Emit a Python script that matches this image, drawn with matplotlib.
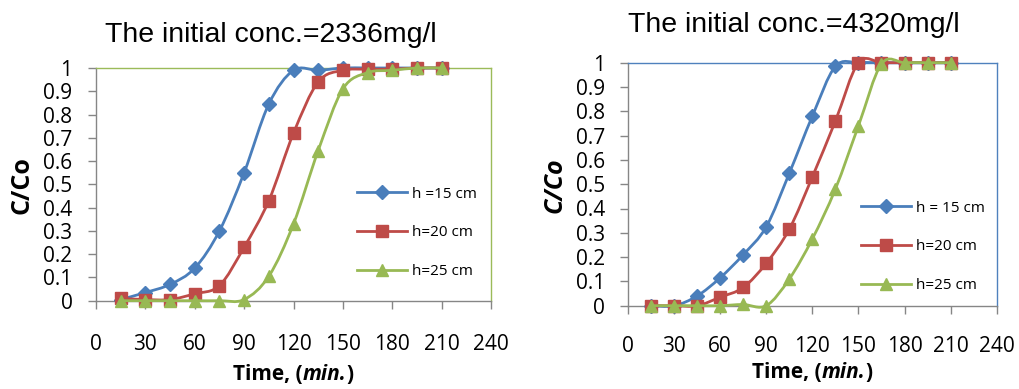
import matplotlib
matplotlib.use('Agg')
import matplotlib.pyplot as plt
import numpy as np
from matplotlib.path import Path
from matplotlib.patches import PathPatch
from matplotlib.lines import Line2D

W, H = 1019, 389

time = [15, 30, 45, 60, 75, 90, 105, 120, 135, 150, 165, 180, 195, 210]

# initial conc. 2336 mg/l
a_h15 = [0.005, 0.035, 0.07, 0.14, 0.30, 0.55, 0.845, 0.99, 0.99, 1.0, 1.0, 1.0, 1.0, 1.0]
a_h20 = [0.01, 0.005, 0.005, 0.03, 0.065, 0.23, 0.43, 0.72, 0.94, 0.99, 0.995, 0.995, 1.0, 1.0]
a_h25 = [0.0, 0.0, 0.0, 0.0, 0.0, 0.005, 0.105, 0.33, 0.645, 0.91, 0.98, 0.99, 1.0, 1.0]

# initial conc. 4320 mg/l
b_h15 = [0.0, 0.0, 0.04, 0.115, 0.21, 0.325, 0.545, 0.78, 0.985, 1.0, 1.0, 1.0, 1.0, 1.0]
b_h20 = [0.0, 0.0, 0.0, 0.035, 0.075, 0.175, 0.315, 0.53, 0.76, 1.0, 1.0, 1.0, 1.0, 1.0]
b_h25 = [0.0, 0.0, 0.0, 0.0, 0.005, 0.0, 0.11, 0.275, 0.48, 0.74, 0.995, 1.0, 1.0, 1.0]

labels_a = ['h =15 cm', 'h=20 cm', 'h=25 cm']
labels_b = ['h = 15 cm', 'h=20 cm', 'h=25 cm']
titles = ['The initial conc.=2336mg/l', 'The initial conc.=4320mg/l']

colors = ['#4A7EBB', '#BE4B48', '#98B954']
markers = [('D', 7), ('s', 8.5), ('^', 9)]
grey = '#868686'

font = 'Open Sans'


def smooth_path(x, y):
    # Excel-style smoothed line: cubic bezier segments (catmull-rom control points)
    pts = np.column_stack([x, y]).astype(float)
    n = len(pts)
    verts = [pts[0]]
    codes = [Path.MOVETO]
    for i in range(n - 1):
        p0 = pts[i - 1] if i > 0 else pts[i]
        p1 = pts[i]
        p2 = pts[i + 1]
        p3 = pts[i + 2] if i + 2 < n else pts[i + 1]
        c1 = p1 + (p2 - p0) / 6
        c2 = p2 - (p3 - p1) / 6
        verts += [c1, c2, p2]
        codes += [Path.CURVE4] * 3
    return Path(verts, codes)


def fx(px):
    return px / W


def fy(py):
    return 1 - py / H


def xlabel(cx, cy):
    # "Time, (min.)" with min. in bold italic, pieces laid side by side
    pieces = [('Time, (', 'normal'), ('min.', 'italic'), (')', 'normal')]
    r = fig.canvas.get_renderer()
    texts = []
    widths = []
    for s, st in pieces:
        t = fig.text(0, fy(cy), s, ha='left', va='center', fontsize=15,
                     fontweight='bold', family=font, style=st)
        texts.append(t)
        widths.append(t.get_window_extent(r).width)
    total = sum(widths)
    x = cx - total / 2
    for t, w in zip(texts, widths):
        t.set_x(fx(x))
        x += w


def make_panel(box, series, labels, frame_color, title, title_xy, leg_xy,
               ylab_xy, ylab_italic, xlab_y, xpad, ypad):
    x0, y0, x1, y1 = box
    ax = fig.add_axes([fx(x0), fy(y1), fx(x1) - fx(x0), fy(y0) - fy(y1)])
    handles = []
    for i, ys in enumerate(series):
        patch = PathPatch(smooth_path(time, ys), facecolor='none',
                          edgecolor=colors[i], lw=2.0, zorder=3 + i * 2,
                          clip_on=False)
        ax.add_patch(patch)
        m, ms = markers[i]
        ax.plot(time, ys, ls='none', marker=m, ms=ms, color=colors[i],
                zorder=4 + i * 2, clip_on=False)
        handles.append(Line2D([], [], color=colors[i], lw=2.0, marker=m, ms=ms))

    ax.set_xlim(0, 240)
    ax.set_ylim(0, 1)
    ax.set_xticks(np.arange(0, 241, 30))
    ax.set_yticks(np.arange(0, 1.01, 0.1))
    ax.set_yticklabels(['0', '0.1', '0.2', '0.3', '0.4', '0.5', '0.6',
                        '0.7', '0.8', '0.9', '1'])
    for s in ['left', 'bottom']:
        ax.spines[s].set_color(grey)
        ax.spines[s].set_linewidth(1.0)
    for s in ['top', 'right']:
        ax.spines[s].set_color(frame_color)
        ax.spines[s].set_linewidth(1.0)
    ax.tick_params(axis='both', direction='out', length=6, width=1.0,
                   color=grey, labelsize=15)
    ax.tick_params(axis='x', pad=xpad)
    ax.tick_params(axis='y', pad=ypad)
    for lab in ax.get_xticklabels() + ax.get_yticklabels():
        lab.set_fontfamily(font)

    ax.legend(handles, labels, loc='center left',
              bbox_to_anchor=(fx(leg_xy[0]), fy(leg_xy[1])),
              bbox_transform=fig.transFigure, frameon=False,
              prop={'family': font, 'size': 11},
              handlelength=3.3, handletextpad=0.3, labelspacing=1.55,
              borderpad=0, borderaxespad=0, numpoints=1)

    fig.text(fx(title_xy[0]), fy(title_xy[1]), title, ha='center',
             va='baseline', fontsize=20.5, family='Liberation Sans')
    fig.text(fx(ylab_xy[0]), fy(ylab_xy[1]), 'C/Co', rotation=90,
             ha='center', va='center', fontsize=18, fontweight='bold',
             family=font, style='italic' if ylab_italic else 'normal')
    xlabel((x0 + x1) / 2, xlab_y)
    return ax


fig = plt.figure(figsize=(W / 100, H / 100), dpi=100)

make_panel((96, 68, 491, 300.7), [a_h15, a_h20, a_h25], labels_a,
           '#9BBB59', titles[0], (271, 42), (357, 233), (22, 185), False,
           375, 18, 11)
make_panel((628, 62.7, 996.7, 305.7), [b_h15, b_h20, b_h25], labels_b,
           '#4F81BD', titles[1], (794, 32), (861, 247), (555, 185), True,
           372, 16, 10.5)

fig.savefig('out.png', dpi=100)
